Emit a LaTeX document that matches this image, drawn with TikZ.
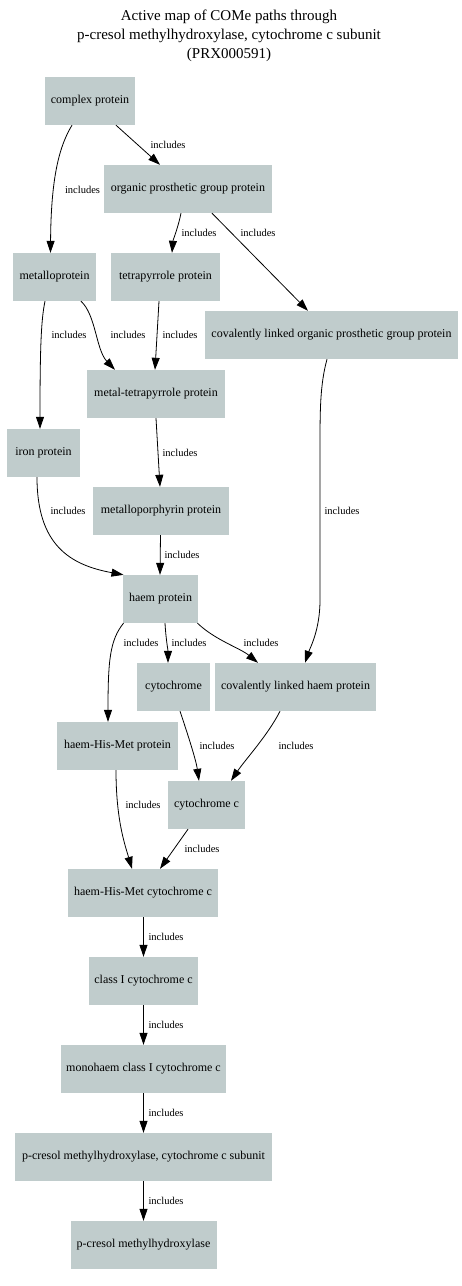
\documentclass[tikz,border=0pt]{standalone}
\usepackage{fontspec}
\setmainfont{Liberation Serif}
\usetikzlibrary{arrows.meta}
\definecolor{nodefill}{RGB}{192,204,204}
\begin{document}
\begin{tikzpicture}[x=1pt,y=-1pt,
  box/.style={fill=nodefill, draw=none, inner sep=0pt, minimum height=48pt, font=\fontsize{12}{14}\selectfont},
  lbl/.style={inner sep=0pt, font=\fontsize{10.5}{12}\selectfont},
  edge/.style={draw=black, line width=0.8pt, -{Triangle[length=12pt,width=8pt]}}]
\useasboundingbox[fill=white] (0,0) rectangle (461,1286);
\node[font=\fontsize{15}{18}\selectfont, align=center, inner sep=0pt] (title) at (229,36)
  {Active map of COMe paths through\\[1pt] p-cresol methylhydroxylase, cytochrome c subunit\\[1pt] (PRX000591)};

\node[box, minimum width=90pt] (cp) at (90,101) {complex protein};
\node[box, minimum width=168pt] (og) at (188,189) {organic prosthetic group protein};
\node[box, minimum width=83pt] (mp) at (54.5,277) {metalloprotein};
\node[box, minimum width=109pt] (tp) at (165.5,277) {tetrapyrrole protein};
\node[box, minimum width=253pt] (clo) at (331.5,335) {covalently linked organic prosthetic group protein};
\node[box, minimum width=138pt] (mt) at (156,394) {metal-tetrapyrrole protein};
\node[box, minimum width=73pt] (ir) at (43.5,453) {iron protein};
\node[box, minimum width=136pt] (mpp) at (161,511) {metalloporphyrin protein};
\node[box, minimum width=75pt] (hp) at (160.5,599) {haem protein};
\node[box, minimum width=73pt] (cy) at (173.5,687) {cytochrome};
\node[box, minimum width=161pt] (clh) at (295.5,687) {covalently linked haem protein};
\node[box, minimum width=121pt] (hhm) at (117.5,746) {haem-His-Met protein};
\node[box, minimum width=77pt] (cc) at (206.5,805) {cytochrome c};
\node[box, minimum width=150pt] (hc) at (143,893) {haem-His-Met cytochrome c};
\node[box, minimum width=109pt] (c1) at (143.5,981) {class I cytochrome c};
\node[box, minimum width=165pt] (mh) at (143.5,1069) {monohaem class I cytochrome c};
\node[box, minimum width=257pt] (ps) at (143.5,1157) {p-cresol methylhydroxylase, cytochrome c subunit};
\node[box, minimum width=146pt] (pm) at (143.5,1245) {p-cresol methylhydroxylase};

% edges
\draw[edge] ([xshift=-18pt]cp.south) .. controls (60,145) and (51,175) .. ([xshift=-4pt]mp.north);
\draw[edge] ([xshift=26pt]cp.south) -- ([xshift=-28pt]og.north);
\draw[edge] ([xshift=-7pt]og.south) .. controls (178,228) and (173,240) .. ([xshift=6.5pt]tp.north);
\draw[edge] ([xshift=24pt]og.south) -- ([xshift=-23.5pt]clo.north);
\draw[edge] ([xshift=26.5pt]mp.south) .. controls (96,315) and (96,350) .. ([xshift=-41pt]mt.north);
\draw[edge] ([xshift=-9.5pt]mp.south) .. controls (41,320) and (40,350) .. ([xshift=-3.5pt]ir.north);
\draw[edge] ([xshift=-6.5pt]tp.south) -- ([xshift=-1pt]mt.north);
\draw[edge] (mt.south) -- ([xshift=-1pt]mpp.north);
\draw[edge] ([xshift=-6.5pt]ir.south) .. controls (37,545) and (70,565) .. ([xshift=-37pt]hp.north);
\draw[edge] ([xshift=-0.5pt]mpp.south) -- ([xshift=-0.5pt]hp.north);
\draw[edge] ([xshift=-4.5pt]clo.south) .. controls (320,385) and (320,410) .. (320,450) -- (320,600) .. controls (320,630) and (310,648) .. ([xshift=9.5pt]clh.north);
\draw[edge] ([xshift=-37pt]hp.south) .. controls (110,640) and (108,660) .. ([xshift=-9.5pt]hhm.north);
\draw[edge] ([xshift=4.5pt]hp.south) .. controls (166,640) and (168,650) .. ([xshift=-5.5pt]cy.north);
\draw[edge] ([xshift=37pt]hp.south) .. controls (215,640) and (240,648) .. ([xshift=-37.5pt]clh.north);
\draw[edge] ([xshift=6.5pt]cy.south) .. controls (188,735) and (196,760) .. ([xshift=-7.5pt]cc.north);
\draw[edge] ([xshift=-15.5pt]clh.south) .. controls (268,735) and (245,760) .. ([xshift=24.5pt]cc.north);
\draw[edge] ([xshift=-1.5pt]hhm.south) .. controls (116,820) and (125,845) .. ([xshift=-11pt]hc.north);
\draw[edge] ([xshift=-18.5pt]cc.south) -- ([xshift=17pt]hc.north);
\draw[edge] ([xshift=0.5pt]hc.south) -- (c1.north);
\draw[edge] (c1.south) -- (mh.north);
\draw[edge] (mh.south) -- (ps.north);
\draw[edge] (ps.south) -- (pm.north);

% labels
\node[lbl] (l1) at (82.5,190) {includes};
\node[lbl] (l2) at (168,145) {includes};
\node[lbl] (l3) at (199,233) {includes};
\node[lbl] (l4) at (258,233) {includes};
\node[lbl] (l5) at (128,335) {includes};
\node[lbl] (l6) at (69,335) {includes};
\node[lbl] (l7) at (180,335) {includes};
\node[lbl] (l8) at (180,453) {includes};
\node[lbl] (l9) at (68,511) {includes};
\node[lbl] (l10) at (182,555) {includes};
\node[lbl] (l11) at (342,511) {includes};
\node[lbl] (l12) at (141,643) {includes};
\node[lbl] (l13) at (189,643) {includes};
\node[lbl] (l14) at (261,643) {includes};
\node[lbl] (l15) at (217,746) {includes};
\node[lbl] (l16) at (296,746) {includes};
\node[lbl] (l17) at (143,805) {includes};
\node[lbl] (l18) at (202,849) {includes};
\node[lbl] (l19) at (166,937) {includes};
\node[lbl] (l20) at (166,1025) {includes};
\node[lbl] (l21) at (166,1113) {includes};
\node[lbl] (l22) at (166,1201) {includes};
\end{tikzpicture}
\end{document}
